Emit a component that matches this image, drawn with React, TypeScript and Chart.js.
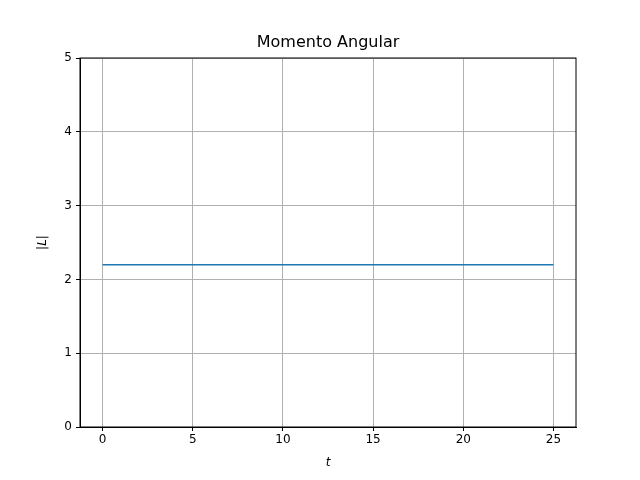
import { useEffect, useRef } from "react"
import { Chart, registerables } from "chart.js"

Chart.register(...registerables)

const times = [0, 25]
const momentum = [2.2, 2.2]
const xTicks = [0, 5, 10, 15, 20, 25]

const frame = {
  id: "frame",
  afterDraw(chart: Chart) {
    const { ctx, chartArea: a } = chart
    ctx.save()
    ctx.strokeStyle = "#000"
    ctx.lineWidth = 1
    ctx.strokeRect(a.left, a.top, a.right - a.left, a.bottom - a.top)
    ctx.restore()
  },
}

export default function App() {
  const ref = useRef<HTMLCanvasElement | null>(null)

  useEffect(() => {
    if (!ref.current) return
    document.body.style.margin = "0"
    const font = { family: "DejaVu Sans", size: 12 }
    const chart = new Chart(ref.current, {
      type: "line",
      data: {
        datasets: [
          {
            data: times.map((t, i) => ({ x: t, y: momentum[i] })),
            borderColor: "#1f77b4",
            borderWidth: 1.5,
            pointRadius: 0,
          },
        ],
      },
      options: {
        animation: false,
        responsive: false,
        layout: { padding: { left: 0, right: 64, top: 0, bottom: 0 } },
        plugins: {
          legend: { display: false },
          tooltip: { enabled: false },
          title: {
            display: true,
            fullSize: false,
            text: "Momento Angular",
            color: "#000",
            font: { family: "DejaVu Sans", size: 16, weight: "normal" },
            padding: { top: 33, bottom: 5.8 },
          },
        },
        scales: {
          x: {
            type: "linear",
            min: -1.25,
            max: 26.25,
            afterBuildTicks: (s) => {
              s.ticks = xTicks.map((v) => ({ value: v }))
            },
            afterFit: (s) => {
              s.height = 53
            },
            grid: { color: "#b0b0b0", tickColor: "#000", tickLength: 4 },
            border: { color: "#000" },
            ticks: { color: "#000", font, padding: 2, maxRotation: 0 },
            title: {
              display: true,
              text: "t",
              color: "#000",
              font: { family: "DejaVu Sans", size: 12, style: "italic" },
              padding: { top: 0, bottom: 10 },
            },
          },
          y: {
            min: 0,
            max: 5,
            afterFit: (s) => {
              s.width = 80
            },
            grid: { color: "#b0b0b0", tickColor: "#000", tickLength: 4 },
            border: { color: "#000" },
            ticks: { color: "#000", font, stepSize: 1, padding: 4 },
            title: {
              display: true,
              text: "|L|",
              color: "#000",
              font: { family: "DejaVu Sans", size: 12, style: "italic" },
              padding: { top: 36, bottom: 0 },
            },
          },
        },
      },
      plugins: [frame],
    })
    return () => chart.destroy()
  }, [])

  return <canvas ref={ref} width={640} height={480} />
}
